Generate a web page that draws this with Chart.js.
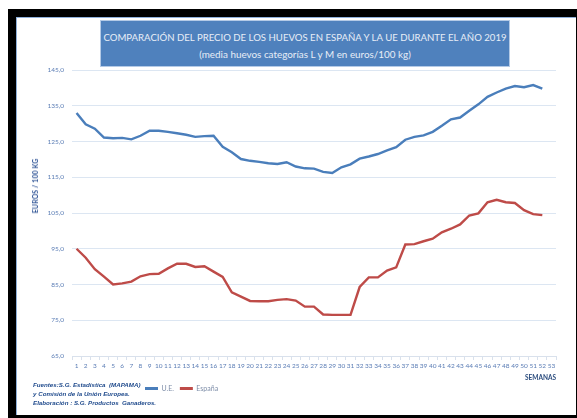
<!DOCTYPE html>
<html><head><meta charset="utf-8">
<script src="https://cdn.jsdelivr.net/npm/chart.js@4.4.1/dist/chart.umd.min.js"></script>
<style>
html,body{margin:0;padding:0;background:#fff;width:577px;height:418px;overflow:hidden;}
#wrap{position:relative;width:577px;height:418px;}
#frame{position:absolute;left:8px;top:9px;width:569px;height:409px;background:#000;}
#inner{position:absolute;left:16px;top:17px;width:560px;height:398px;background:#fff;border-left:1px solid #8FB0DA;border-top:1px solid #8FB0DA;box-sizing:border-box;}
canvas{position:absolute;left:0;top:0;}
#title{position:absolute;left:100px;top:20px;width:410px;height:47px;background:#4F81BD;border:1px solid #B4CAE6;box-sizing:border-box;color:#E8EEF7;font-family:Lato;font-size:9.6px;text-align:center;}
#title div{position:absolute;left:0;right:0;white-space:nowrap;line-height:12px;}
#ytitle{position:absolute;left:35px;top:186px;transform:translate(-50%,-50%) rotate(-90deg);font-family:Lato;font-weight:bold;font-size:6.9px;letter-spacing:0.15px;color:#2F5496;white-space:nowrap;}
#foot{position:absolute;left:33px;top:380px;font-family:'Liberation Sans';font-weight:bold;font-style:italic;font-size:6.2px;line-height:9px;color:#1F4A8C;white-space:pre;}
</style></head>
<body><div id="wrap">
<div id="frame"></div><div id="inner"></div>
<canvas id="c" width="577" height="418"></canvas>
<div id="title"><div style="top:11px">COMPARACIÓN DEL PRECIO DE LOS HUEVOS EN ESPAÑA Y LA UE DURANTE EL AÑO 2019</div><div style="top:27px;font-size:9.9px">(media huevos categorías L y M en euros/100 kg)</div></div>
<div id="ytitle">EUROS / 100 KG</div>
<div id="foot">Fuentes:S.G. Estadística  (MAPAMA)
y Comisión de la Unión Europea.
Elaboración : S.G. Productos  Ganaderos.</div>
</div>
<script>
const weeks = ['1','2','3','4','5','6','7','8','9','10','11','12','13','14','15','16','17','18','19','20','21','22','23','24','25','26','27','28','29','30','31','32','33','34','35','36','37','38','39','40','41','42','43','44','45','46','47','48','49','50','51','52','53'];
const ue = [133.0,129.8,128.6,126.1,125.9,126.0,125.6,126.6,128.0,128.0,127.7,127.3,126.9,126.3,126.5,126.6,123.5,122.0,120.1,119.6,119.3,118.9,118.7,119.2,118.0,117.5,117.4,116.5,116.2,117.8,118.6,120.2,120.8,121.5,122.5,123.4,125.5,126.3,126.7,127.7,129.4,131.2,131.7,133.6,135.4,137.5,138.7,139.8,140.5,140.2,140.8,139.8];
const espana = [95.0,92.5,89.3,87.2,85.0,85.3,85.8,87.3,87.9,88.0,89.5,90.8,90.8,89.9,90.1,88.6,87.1,82.8,81.6,80.4,80.3,80.3,80.7,80.9,80.5,78.8,78.8,76.6,76.5,76.5,76.5,84.3,87.0,87.0,88.9,89.8,96.2,96.3,97.1,97.8,99.6,100.6,101.8,104.3,104.9,108.0,108.7,108.0,107.8,105.8,104.7,104.4];
const seriesNames = ['U.E.','España'];
const yMin = 65, yMax = 145, yStep = 10;

Chart.defaults.font.family = 'Lato';
const legendPos = {
  id:'legendPos',
  afterLayout(chart){
    const lg = chart.legend; if(!lg) return;
    const w = lg.width, h = lg.height;
    lg.left = 139; lg.right = 139 + w; lg.top = 379; lg.bottom = 379 + h;
  }
};
new Chart(document.getElementById('c'), {
  type:'line',
  data:{labels:weeks, datasets:[
    {label:seriesNames[0], data:ue, borderColor:'#4A7EBB', backgroundColor:'#4A7EBB', borderWidth:2.4, pointRadius:0, tension:0},
    {label:seriesNames[1], data:espana, borderColor:'#BE4B48', backgroundColor:'#BE4B48', borderWidth:2.4, pointRadius:0, tension:0}
  ]},
  options:{
    responsive:false, animation:false, devicePixelRatio:1,
    layout:{padding:{left:0,right:21,top:70,bottom:9}},
    plugins:{
      legend:{position:'bottom', align:'start',
        labels:{boxWidth:13, boxHeight:3, padding:6, color:'#7D8DA8', font:{size:7},
          generateLabels(chart){ return Chart.defaults.plugins.legend.labels.generateLabels(chart).map(l=>({...l, lineWidth:0})); }}},
      tooltip:{enabled:false}
    },
    scales:{
      x:{type:'category', offset:true,
        grid:{offset:true, drawOnChartArea:false, drawTicks:true, tickLength:4, color:'#D9E1EC'},
        border:{display:true, color:'#D9E1EC'},
        ticks:{autoSkip:false, maxRotation:0, minRotation:0, padding:2, color:'#5B7DB5', font:{size:6.5}},
        title:{display:true, text:'SEMANAS', align:'end', color:'#2B4C7E', font:{size:6.5, weight:'bold'}, padding:{top:0,bottom:4}},
        afterFit(s){ s.height = 30; }
      },
      y:{min:yMin, max:yMax,
        grid:{color:'#DCE6F2', drawTicks:false},
        border:{display:false},
        ticks:{stepSize:yStep, padding:8, color:'#5B7DB5', font:{size:6.5}, callback:v=>v.toFixed(1).replace('.',',')},
        afterFit(s){ s.width = 72; }
      }
    }
  },
  plugins:[legendPos]
});
</script>
</body></html>
